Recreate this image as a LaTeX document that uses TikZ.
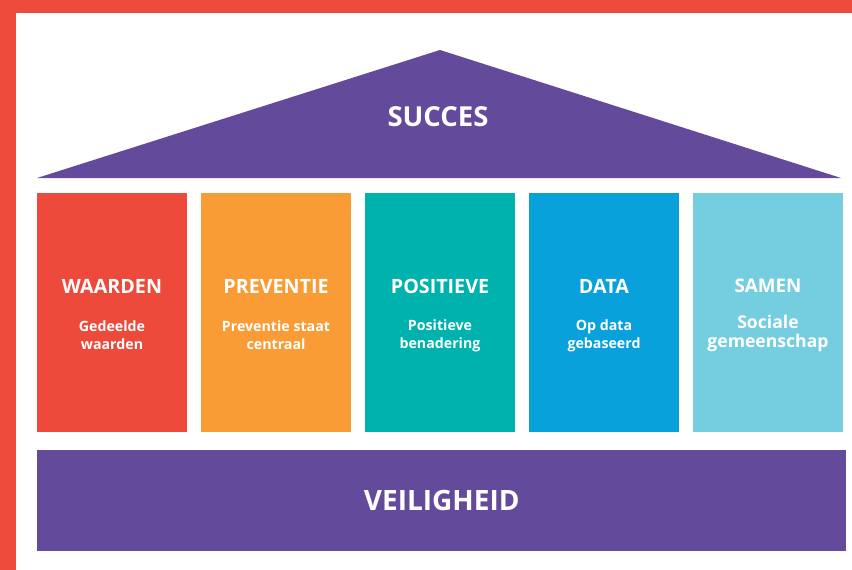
\documentclass[tikz,border=0pt]{standalone}
\usepackage{fontspec}
\setmainfont{Open Sans}
\usetikzlibrary{positioning}
\definecolor{frame}{RGB}{238, 75, 61}
\definecolor{housepurple}{RGB}{99, 74, 155}
\definecolor{pillarred}{RGB}{237, 74, 59}
\definecolor{pillarorange}{RGB}{249, 156, 53}
\definecolor{pillarteal}{RGB}{0, 178, 174}
\definecolor{pillarblue}{RGB}{9, 161, 219}
\definecolor{pillarlight}{RGB}{117, 205, 224}

\begin{document}
\begin{tikzpicture}[x=1pt, y=-1pt,
    pillar/.style={rectangle, anchor=north west, inner sep=0pt, minimum width=150pt, minimum height=239pt},
    head/.style={text=white, font=\bfseries\fontsize{19.7}{22}\selectfont},
    sub/.style={text=white, align=center, font=\bfseries\fontsize{14.2}{18}\selectfont},
    big/.style={text=white, font=\bfseries\fontsize{27.5}{30}\selectfont}
  ]
    \useasboundingbox (0, 0) rectangle (852, 570);
    % frame
    \fill[frame] (0, 0) rectangle (852, 12.7);
    \fill[frame] (0, 0) rectangle (16, 570);

    % roof
    \fill[housepurple] (37, 178) -- (440, 50) -- (841, 178) -- cycle;
    \node[big] at (438, 117) (succes) {SUCCES};

    % pillars
    \node[pillar, fill=pillarred]    at (37, 193)  (waarden)   {};
    \node[pillar, fill=pillarorange] at (201, 193) (preventie) {};
    \node[pillar, fill=pillarteal]   at (365, 193) (positieve) {};
    \node[pillar, fill=pillarblue]   at (529, 193) (data)      {};
    \node[pillar, fill=pillarlight]  at (693, 193) (samen)     {};

    \node[head] at (112, 286) (waardenhead)   {WAARDEN};
    \node[head] at (276, 286) (preventiehead) {PREVENTIE};
    \node[head] at (440, 286) (positievehead) {POSITIEVE};
    \node[head] at (604, 286) (datahead)      {DATA};
    \node[head, font=\bfseries\fontsize{18.8}{22}\selectfont] at (768, 286) (samenhead) {SAMEN};

    \node[sub] at (112, 335.5) (waardentxt)   {Gedeelde\\waarden};
    \node[sub] at (276, 335.5) (preventietxt) {Preventie staat\\centraal};
    \node[sub] at (440, 335.5) (positievetxt) {Positieve\\benadering};
    \node[sub] at (604, 335.5) (datatxt)      {Op data\\gebaseerd};
    \node[sub, font=\bfseries\fontsize{17.6}{19.5}\selectfont] at (768, 333.5) (samentxt) {Sociale\\gemeenschap};

    % foundation
    \node[rectangle, anchor=north west, inner sep=0pt, fill=housepurple, minimum width=809pt, minimum height=101pt] at (37, 450) (veiligheid) {};
    \node[big, font=\bfseries\fontsize{28}{30}\selectfont] at (veiligheid.center) (veiligheidtxt) {VEILIGHEID};
\end{tikzpicture}
\end{document}
